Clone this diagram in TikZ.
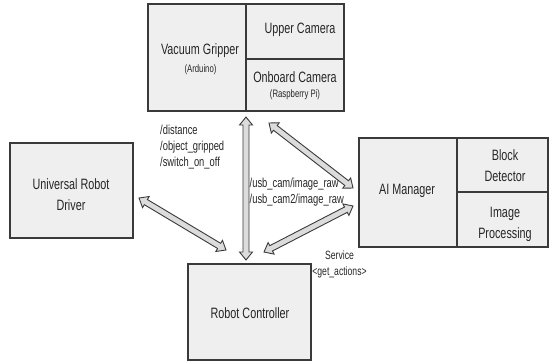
\documentclass[tikz,border=0pt]{standalone}
\usepackage{fontspec}
\setmainfont{Liberation Sans}[FakeStretch=0.72]
\usetikzlibrary{calc}

\definecolor{boxfill}{HTML}{EFEFEF}
\definecolor{boxline}{HTML}{3A3A3A}
\definecolor{arrfill}{HTML}{DCDCDC}
\definecolor{txt}{HTML}{262626}

% double-headed block arrow between two named points
\newcommand\dblarrow[2]{%
  \draw[fatarrow] (#1)
    -- ($(#1)!\ahl!(#2)!\ahw!90:(#2)$)
    -- ($(#1)!\ahl!(#2)!\asw!90:(#2)$)
    -- ($(#2)!\ahl!(#1)!\asw!-90:(#1)$)
    -- ($(#2)!\ahl!(#1)!\ahw!-90:(#1)$)
    -- (#2)
    -- ($(#2)!\ahl!(#1)!\ahw!90:(#1)$)
    -- ($(#2)!\ahl!(#1)!\asw!90:(#1)$)
    -- ($(#1)!\ahl!(#2)!\asw!-90:(#2)$)
    -- ($(#1)!\ahl!(#2)!\ahw!-90:(#2)$)
    -- cycle;}
\newcommand\ahl{8pt}
\newcommand\ahw{6.5pt}
\newcommand\asw{3pt}

\begin{document}
\begin{tikzpicture}[x=1pt,y=-1pt,
  cell/.style={draw=boxline, fill=boxfill, line width=1.2pt, inner sep=0pt},
  celltext/.style={text=txt, font=\fontsize{15}{21}\selectfont, align=center, inner sep=0pt},
  note/.style={text=txt, font=\fontsize{10.8}{13}\selectfont, inner sep=0pt},
  topic/.style={text=txt, font=\fontsize{13}{16}\selectfont, align=left,
    inner sep=0pt, anchor=west},
  fatarrow/.style={draw=boxline, fill=arrfill, line width=0.9pt, line join=miter}]
\useasboundingbox (0,0) rectangle (549,362);

% Vacuum gripper block with its cameras
\node[cell, minimum width=98pt, minimum height=107pt] (grip) at (197,57.5) {};
\node[cell, minimum width=98pt, minimum height=55pt] (upcam) at (295,31.5) {};
\node[cell, minimum width=98pt, minimum height=52pt] (obcam) at (295,85) {};
\node[celltext] (tgrip) at (200,51) {Vacuum Gripper};
\node[note] (tard) at (200.5,70) {(Arduino)};
\node[celltext] (tup) at (300,30) {Upper Camera};
\node[celltext] (tob) at (295,77) {Onboard Camera};
\node[note] (trpi) at (295,95) {(Raspberry Pi)};

% Universal robot driver
\node[cell, minimum width=123pt, minimum height=95pt] (urd) at (71.5,190.5) {};
\node[celltext] (turd) at (71,194.5) {Universal Robot\\Driver};

% AI manager block
\node[cell, minimum width=98pt, minimum height=109pt] (ai) at (408,192.5) {};
\node[cell, minimum width=91pt, minimum height=54pt] (block) at (502.5,165) {};
\node[cell, minimum width=91pt, minimum height=55pt] (improc) at (502.5,219.5) {};
\node[celltext] (tai) at (407,191) {AI Manager};
\node[celltext] (tblock) at (505,165.5) {Block\\Detector};
\node[celltext] (timg) at (505,224) {Image\\Processing};

% Robot controller
\node[cell, minimum width=123pt, minimum height=96pt] (ctrl) at (249.5,312) {};
\node[celltext] (tctrl) at (250,313) {Robot Controller};

% arrow end points
\coordinate (vtop) at (246,117);
\coordinate (vbot) at (246,260);
\coordinate (ltop) at (139,198);
\coordinate (lbot) at (226,250);
\coordinate (rtop) at (269,123);
\coordinate (rbot) at (353,188);
\coordinate (sbot) at (264,252);
\coordinate (stop) at (353,206);

\dblarrow{vtop}{vbot}
\dblarrow{ltop}{lbot}
\dblarrow{rtop}{rbot}
\dblarrow{sbot}{stop}

% topic labels
\node[topic] (ttopics) at (160,147) {/distance\\/object\_gripped\\/switch\_on\_off};
\node[topic] (tcam) at (249.5,192) {/usb\_cam/image\_raw\\/usb\_cam2/image\_raw};
\node[text=txt, font=\fontsize{12}{16}\selectfont, align=center, inner sep=0pt]
  (srv) at (339.5,264) {Service\\<get\_actions>};
\end{tikzpicture}
\end{document}
